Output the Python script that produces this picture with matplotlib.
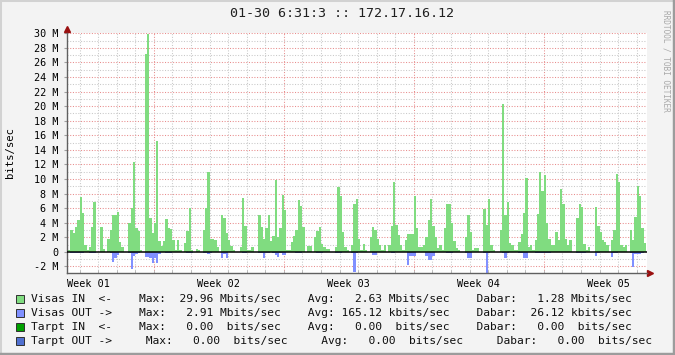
import numpy as np
import matplotlib
matplotlib.use("Agg")
import matplotlib.pyplot as plt
from matplotlib.patches import Rectangle
from matplotlib.lines import Line2D

# samples: 8 per day (3 h), day 0 starts at the first day grid line
visas_in = [
    0, 0, 1.1, 0.2, 3.0, 2.6, 3.4, 4.3,
    7.5, 5.3, 0.9, 0.3, 0.7, 3.4, 6.9, 0.0,
    0, 3.4, 0.4, 0, 1.7, 3.0, 5.0, 5.0,
    5.4, 1.4, 0.7, 0, 0, 4.0, 6.0, 12.3,
    3.3, 2.9, 0.2, 0, 27.2, 29.96, 4.7, 2.6,
    4.0, 15.2, 1.5, 0.8, 1.5, 4.5, 3.3, 3.1,
    1.6, 0.3, 1.6, 0.2, 0, 1.2, 2.8, 6.0,
    0.2, 0, 0.4, 0.2, 0, 3.0, 6.0, 10.9,
    1.7, 1.7, 1.6, 0.6, 0, 5.0, 4.6, 2.6,
    1.6, 0.8, 0.2, 0, 0, 0.7, 7.4, 3.5,
    0.2, 0.2, 0.6, 0, 0, 5.0, 3.4, 1.7,
    3.3, 5.1, 1.5, 2.2, 9.9, 2.0, 3.3, 7.8,
    5.7, 0.2, 0.3, 1.4, 2.2, 3.0, 7.1, 6.3,
    3.4, 0, 0.8, 0.8, 0, 2.0, 2.8, 3.4,
    1.1, 0.7, 0.45, 0.45, 0, 0, 0.7, 8.9,
    7.6, 2.75, 0.7, 0.2, 0, 1.0, 6.6, 7.3,
    1.7, 0.3, 1.1, 0.3, 0, 2.0, 3.4, 3.0,
    1.7, 0.9, 0.2, 0.9, 0, 1.0, 3.5, 9.6,
    3.7, 2.3, 0.9, 0.3, 1.6, 2.5, 2.5, 2.5,
    7.6, 3.2, 0.7, 0.7, 0.9, 2.0, 4.4, 7.2,
    3.5, 2.0, 0.5, 0.9, 0.3, 3.3, 6.6, 6.5,
    4.0, 1.5, 0.5, 0.2, 0, 0, 2.0, 5.0,
    2.75, 0.3, 0.55, 0.55, 0, 0, 5.9, 3.7,
    7.2, 0.9, 0.3, 0, 0, 3.0, 20.3, 5.0,
    6.9, 1.2, 0.9, 0.3, 0.2, 1.4, 2.5, 5.3,
    10.1, 0.7, 0.9, 0.3, 1.6, 5.2, 11.0, 8.3,
    10.5, 4.0, 1.8, 1.0, 1.0, 2.75, 1.6, 8.6,
    6.6, 1.7, 0.9, 1.6, 0, 0, 4.6, 6.6,
    6.1, 1.1, 0.3, 0.6, 0, 0, 6.1, 3.5,
    2.75, 1.6, 1.4, 0.9, 0, 1.6, 3.0, 10.7,
    9.6, 0.9, 0.6, 0.9, 0, 3.0, 1.6, 4.8,
    9.0, 7.6, 3.3, 1.2, 0,
]
visas_out = [
    0, 0, 0, 0, 0.1, 0.15, 0.15, 0.15,
    0.15, 0.15, 0, 0, 0.1, 0.15, 0.15, 0,
    0, 0, 0, 0, 0, 0.2, 1.4, 0.9,
    0.45, 0, 0, 0, 0, 0.2, 2.3, 0.6,
    0.3, 0.2, 0, 0, 0.7, 0.7, 0.9, 1.5,
    0.8, 1.5, 0.3, 0, 0, 0.15, 0.15, 0.15,
    0, 0, 0, 0, 0, 0, 0.15, 0.15,
    0.15, 0, 0, 0, 0, 0.15, 0.15, 0.3,
    0.2, 0, 0, 0, 0, 0.9, 0.3, 0.9,
    0, 0, 0, 0, 0, 0, 0.15, 0.15,
    0, 0, 0, 0, 0, 0.2, 0.2, 0.8,
    0.2, 0.2, 0, 0.2, 0.45, 0.7, 0.2, 0.45,
    0.45, 0, 0, 0, 0, 0.2, 0.2, 0.2,
    0, 0, 0, 0, 0, 0, 0.15, 0.15,
    0.15, 0, 0, 0, 0, 0, 0.2, 0.2,
    0.2, 0, 0, 0, 0, 0.2, 2.75, 0.2,
    0, 0, 0, 0, 0, 0, 0.45, 0.45,
    0, 0, 0, 0, 0, 0, 0.2, 0.2,
    0, 0, 0, 0, 0, 1.8, 0.6, 0.6,
    0.6, 0, 0, 0, 0, 0.6, 1.1, 1.1,
    0.6, 0, 0, 0, 0, 0, 0.2, 0.2,
    0.2, 0, 0, 0, 0, 0, 0.2, 0.8,
    0.8, 0, 0, 0, 0, 0, 0.2, 2.91,
    0.2, 0, 0, 0, 0, 0, 0.2, 0.8,
    0.2, 0, 0, 0, 0, 0.2, 0.2, 0.8,
    0.8, 0, 0, 0, 0.15, 0.15, 0.15, 0.15,
    0.15, 0.15, 0.15, 0, 0, 0, 0, 0,
    0, 0, 0, 0, 0, 0, 0.15, 0.15,
    0.15, 0.15, 0, 0, 0, 0, 0.6, 0.15,
    0, 0, 0, 0, 0, 0.7, 0.2, 0.2,
    0, 0, 0, 0, 0, 0.2, 2.1, 0.3,
    0.3, 0.3, 0.2, 0, 0,
]
samples_per_day = 8
week_labels = ["Week 01", "Week 02", "Week 03", "Week 04", "Week 05"]
week_starts = [5, 12, 19, 26]

title = "01-30 6:31:3 :: 172.17.16.12"
legend_rows = [
    ("#80DC80", "Visas IN  <-    Max:  29.96 Mbits/sec    Avg:   2.63 Mbits/sec    Dabar:   1.28 Mbits/sec"),
    ("#8090FF", "Visas OUT ->    Max:   2.91 Mbits/sec    Avg: 165.12 kbits/sec    Dabar:  26.12 kbits/sec"),
    ("#00A000", "Tarpt IN  <-    Max:   0.00  bits/sec    Avg:   0.00  bits/sec    Dabar:   0.00  bits/sec"),
    ("#5070D0", "Tarpt OUT ->     Max:   0.00  bits/sec     Avg:   0.00  bits/sec     Dabar:   0.00  bits/sec"),
]

W, H = 675, 355
MONO = "DejaVu Sans Mono"
fx = lambda x: x / W
fy = lambda y: 1 - y / H

fig = plt.figure(figsize=(W / 100, H / 100), dpi=100, facecolor="#F3F3F3")
ax = fig.add_axes([fx(67), fy(273), 580 / W, (273 - 33.3) / H])
ax.set_facecolor("white")

vin = np.array(visas_in) * 1e6
vout = np.array(visas_out) * 1e6
edges = np.arange(len(vin) + 1) / samples_per_day

# grid (drawn first, areas on top)
dot = (0, (1, 1.6))
for d in range(1, 32):
    if d not in week_starts:
        ax.axvline(d, color="#C8C8C8", lw=0.75, ls=dot, zorder=1)
for d in week_starts:
    ax.axvline(d, color="#E88C8C", lw=0.75, ls=dot, zorder=1)
for v in range(-2, 31):
    if v == 0:
        continue
    if v % 2:
        ax.axhline(v * 1e6, color="#C8C8C8", lw=0.75, ls=dot, zorder=1)
    else:
        ax.axhline(v * 1e6, color="#E88C8C", lw=0.75, ls=dot, zorder=1)

ax.stairs(vin, edges, baseline=0, fill=True, color="#80DC80", lw=0, zorder=2)
ax.stairs(-vout, edges, baseline=0, fill=True, color="#8090FF", lw=0, zorder=2)
ax.axhline(0, color="black", lw=1.1, zorder=3)

ax.set_xlim(6 / 18.57, 586 / 18.57)
ax.set_ylim(-2.91e6, 30e6)

ax.set_xticks([w * 7 + 1.5 for w in range(5)], week_labels)
ax.set_xticks(range(1, 32), minor=True)
yt = list(range(-2, 31, 2))
ax.set_yticks([v * 1e6 for v in yt], ["0" if v == 0 else f"{v} M" for v in yt])
ax.tick_params(axis="x", which="major", length=0, pad=4, labelsize=7.3)
ax.tick_params(axis="x", which="minor", length=2.5, direction="in", color="#B0B0B0")
ax.tick_params(axis="y", which="major", length=2, color="#A0A0A0", pad=4, labelsize=7.3)
for lab in ax.get_xticklabels() + ax.get_yticklabels():
    lab.set_family(MONO)

for s in ("top", "right"):
    ax.spines[s].set_visible(False)
for s in ("left", "bottom"):
    ax.spines[s].set_color("#606060")
    ax.spines[s].set_linewidth(1.0)

ax.plot([0], [1 + 4 / 240], marker="^", ms=4.5, color="#9A1010", transform=ax.transAxes, clip_on=False)
ax.plot([1 + 2.5 / 580], [0], marker=">", ms=4.5, color="#9A1010", transform=ax.transAxes, clip_on=False)

fig.text(fx(341.5), fy(13.5), title, family=MONO, fontsize=9.6, ha="center", va="center", color="#202020")
fig.text(fx(10), fy(153), "bits/sec", family=MONO, fontsize=7.6, rotation=90, ha="center", va="center")
fig.text(fx(666), fy(61), "RRDTOOL / TOBI OETIKER", family=MONO, fontsize=5.6, rotation=270,
         ha="center", va="center", color="#A8A8A8")

for i, (col, txt) in enumerate(legend_rows):
    yc = 298.5 + i * 14.1
    fig.add_artist(Rectangle((fx(16), fy(yc + 4)), 8 / W, 8 / H, transform=fig.transFigure,
                             facecolor=col, edgecolor="#303030", lw=0.7))
    fig.text(fx(31), fy(yc), txt, family=MONO, fontsize=8.15, va="center", color="#101010")

# 3d frame
fig.add_artist(Line2D([0, 0, 1], [0, 1, 1], transform=fig.transFigure, color="#D2D2D2", lw=2.2))
fig.add_artist(Line2D([0, 1, 1], [0, 0, 1], transform=fig.transFigure, color="#9C9C9C", lw=3.2))

fig.savefig("out.png", dpi=100, facecolor=fig.get_facecolor())
